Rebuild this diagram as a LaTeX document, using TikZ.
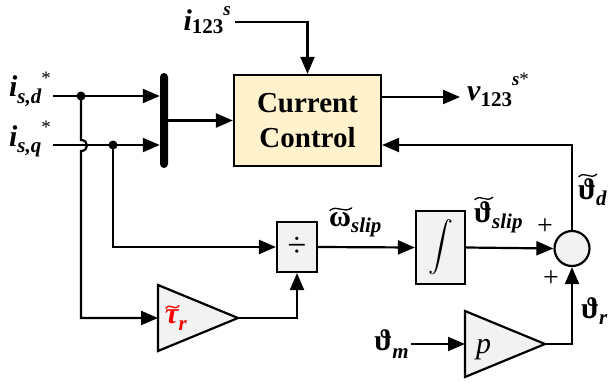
\documentclass[tikz,border=0pt]{standalone}
\usepackage{fontspec}
\usepackage{exscale}
\setmainfont{Liberation Serif}
\usetikzlibrary{arrows.meta}
\definecolor{ccfill}{RGB}{255,242,204}
\definecolor{gfill}{RGB}{242,242,242}
\newcommand{\fs}[1]{\fontsize{#1}{#1}\selectfont}
\newcommand{\SbSp}[5]{{#1}\raisebox{-#4}{\fs{21}#2}\raisebox{#5}{\fs{19}#3}}
\newsavebox\tbx
\newcommand{\wtil}[2][1.5pt]{\sbox\tbx{#2}%
  \makebox[0pt][l]{\raisebox{\dimexpr\ht\tbx+#1\relax}{\tikz[x=1pt,y=1pt,baseline=0pt]\draw[line width=1.3pt,line cap=round] (0pt,0pt) .. controls (\the\dimexpr 35\wd\tbx/100\relax,6pt) and (\the\dimexpr 62\wd\tbx/100\relax,-3.5pt) .. (\the\wd\tbx,2.5pt);}}\usebox\tbx}
\newcommand{\st}{{\mdseries\upshape *}}
\begin{document}
\begin{tikzpicture}[x=1pt,y=-1pt,
  arr/.style={line width=2.2pt, -{Triangle[length=17pt,width=14pt]}},
  blk/.style={draw, line width=2.2pt, fill=gfill, inner sep=0pt},
  tri/.style={draw, line width=2.2pt, fill=gfill, line join=miter},
  lab/.style={font=\fs{30}\bfseries\itshape, inner sep=0pt},
  pm/.style={font=\fs{28}, inner sep=0pt}]
\useasboundingbox (0,0) rectangle (612,385);
% blocks
\node[draw, line width=2.2pt, fill=ccfill, minimum width=147pt, minimum height=91pt,
  align=center, font=\fontsize{29}{35}\selectfont\bfseries, inner sep=0pt] (cc) at (307.5,120.5) {Current\\Control};
\node[fill=black, minimum width=8pt, minimum height=95pt, rounded corners=4pt, inner sep=0pt] (mux) at (164,120.5) {};
\node[blk, minimum width=40pt, minimum height=50pt, font=\fs{34}] (div) at (297,247) {÷};
\node[blk, minimum width=49pt, minimum height=73pt] (int) at (440.5,247.5) {\fs{24}$\displaystyle\int$};
\node[circle, draw, line width=2.2pt, fill=gfill, minimum size=35pt, inner sep=0pt] (sum) at (572,248.5) {};
\draw[tri] (158,285) -- (238,318) -- (158,351) -- cycle;
\draw[tri] (465,311) -- (545,344) -- (465,377) -- cycle;
\coordinate (tauL) at (158,318);
\coordinate (tauR) at (238,318);
\coordinate (pL) at (465,344);
\coordinate (pR) at (545,344);
\node[font=\fs{30}\itshape, inner sep=0pt, anchor=base west] (pt) at (476,353) {p};
\node[lab, anchor=base west, text=red] (taut) at (165,323) {\wtil[1pt]{τ}\raisebox{-7pt}{\fs{21}r}};
% labels
\node[lab, anchor=base east] (Li123) at (231,31) {\SbSp{i}{\upshape 123}{s}{3pt}{15pt}};
\node[lab, anchor=base east] (Lisd) at (51,97) {\SbSp{i}{s,d}{\st}{6pt}{13pt}};
\node[lab, anchor=base east] (Lisq) at (51,146) {\SbSp{i}{s,q}{\st}{6pt}{13pt}};
\node[lab, anchor=base west] (Lv) at (467,100) {\SbSp{v}{\upshape 123}{s\st}{6pt}{15pt}};
\node[lab, anchor=base west] (Lw) at (329,226) {\wtil{\upshape ω}\raisebox{-6pt}{\fs{21}slip}};
\node[lab, anchor=base west] (Lts) at (474,222) {\wtil{\upshape ϑ}\raisebox{-6pt}{\fs{21}slip}};
\node[lab, anchor=base west] (Ltd) at (578,199) {\wtil{\upshape ϑ}\raisebox{-6pt}{\fs{21}d}};
\node[lab, anchor=base west] (Ltr) at (581,318) {{\upshape ϑ}\raisebox{-6pt}{\fs{21}r}};
\node[lab, anchor=base east] (Ltm) at (409,350) {{\upshape ϑ}\raisebox{-8pt}{\fs{21}m}};
\node[pm] (pl1) at (545,227) {+};
\node[pm] (pl2) at (551,279) {+};
% coordinates
\coordinate (i123in) at (235,22);
\coordinate (isd) at (53,96);
\coordinate (isq) at (53,145);
\coordinate (d1) at (81,96);
\coordinate (d2) at (113,145);
\coordinate (jA) at (81,140);
\coordinate (jB) at (81,151);
\coordinate (tauC) at (81,318);
\coordinate (vout) at (460,97);
\coordinate (thm) at (411,344);
% connectors
\draw[arr] (i123in) -| (cc.north);
\draw[arr] (isd) -- (mux.west |- isd);
\draw[arr] (isq) -- (mux.west |- isq);
\draw[arr] (mux.east) -- (cc.west);
\draw[arr] ([yshift=23.5pt]cc.east) -- (vout);
\draw[arr] (sum.north) |- ([yshift=-24.5pt]cc.east);
\draw[arr] (d1) -- (jA) .. controls (89,140) and (89,151) .. (jB) -- (tauC) -- (tauL);
\draw[arr] (d2) |- (div.west);
\draw[arr] (tauR) -| (div.south);
\draw[arr] (div.east) -- (int.west);
\draw[arr] (int.east) -- (sum.west);
\draw[arr] (pR) -| (sum.south);
\draw[arr] (thm) -- (pL);
\fill (d1) circle (4.5pt);
\fill (d2) circle (4.5pt);
\end{tikzpicture}
\end{document}
